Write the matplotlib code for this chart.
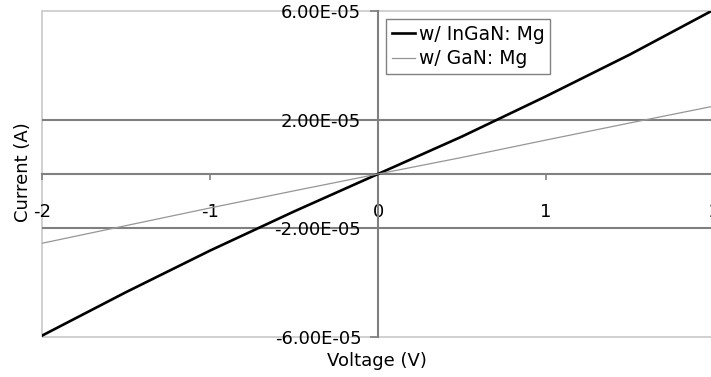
import matplotlib
matplotlib.use("Agg")
import matplotlib.pyplot as plt
from matplotlib.patches import Rectangle

voltage = [-2.0, -1.5, -1.0, -0.5, 0.0, 0.5, 1.0, 1.5, 2.0]
ingan_mg = [-5.95e-5, -4.35e-5, -2.82e-5, -1.38e-5, 0.0, 1.38e-5, 2.86e-5, 4.40e-5, 6.05e-5]
gan_mg = [-2.55e-5, -1.90e-5, -1.25e-5, -0.62e-5, 0.0, 0.61e-5, 1.25e-5, 1.88e-5, 2.50e-5]

x_ticks = [-2, -1, 0, 1, 2]
x_tick_labels = ["-2", "-1", "0", "1", "2"]
y_ticks = [-6e-5, -2e-5, 2e-5, 6e-5]
y_tick_labels = ["-6.00E-05", "-2.00E-05", "2.00E-05", "6.00E-05"]

W, H = 711, 377
fig = plt.figure(figsize=(W / 100, H / 100), dpi=100)
plt.rcParams['font.family'] = ['DejaVu Sans']
left, right, top, bottom = 42, 714, 11, 337
ax = fig.add_axes([left / W, (H - bottom) / H, (right - left) / W, (bottom - top) / H])
ax.set_xlim(-2, 2)
ax.set_ylim(-6e-5, 6e-5)

# border
for s in ['top', 'right']:
    ax.spines[s].set_visible(False)
ax.add_patch(Rectangle((0, 0), 1, 1, transform=ax.transAxes, fill=False,
                       edgecolor='#c8c8c8', linewidth=1.2, zorder=1, clip_on=False))

# gridlines
for yv in [-2e-5, 2e-5]:
    ax.axhline(yv, color='#808080', linewidth=1.5, zorder=1)

# axes through origin
ax.spines['left'].set_position(('data', 0))
ax.spines['bottom'].set_position(('data', 0))
ax.spines['left'].set_color('#808080')
ax.spines['bottom'].set_color('#808080')
ax.spines['left'].set_linewidth(1.5)
ax.spines['bottom'].set_linewidth(1.5)

ax.set_xticks(x_ticks)
ax.set_xticklabels(x_tick_labels)
ax.set_yticks(y_ticks)
ax.set_yticklabels(y_tick_labels)
ax.tick_params(axis='y', direction='out', length=6, width=1.2, color='#808080',
               pad=6, labelsize=13)
ax.tick_params(axis='x', direction='out', length=4, width=1.2, color='#808080',
               pad=17, labelsize=13)

ax.plot(voltage, ingan_mg, color='black', linewidth=1.9, label='w/ InGaN: Mg', zorder=3)
ax.plot(voltage, gan_mg, color='#969696', linewidth=0.9, label='w/ GaN: Mg', zorder=3)

leg = ax.legend(loc='upper left', bbox_to_anchor=(386 / W, (H - 19) / H),
                bbox_transform=fig.transFigure, fontsize=13.5, frameon=True,
                fancybox=False, edgecolor='#808080', framealpha=1,
                handlelength=1.25, handletextpad=0.2, borderpad=0.3,
                labelspacing=0.3, borderaxespad=0)
leg.get_frame().set_linewidth(1.0)

fig.text(23 / W, 1 - 172 / H, 'Current (A)', rotation=90, ha='center', va='center', fontsize=13)
fig.text(377 / W, 1 - 361 / H, 'Voltage (V)', ha='center', va='center', fontsize=13)

fig.savefig('out.png', dpi=100)
